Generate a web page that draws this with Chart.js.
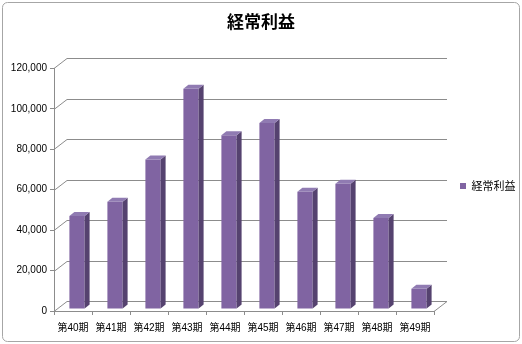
<!DOCTYPE html>
<html><head><meta charset="utf-8">
<script src="https://cdn.jsdelivr.net/npm/chart.js@4"></script>
<style>html,body{margin:0;padding:0;background:#fff}#wrap{width:522px;height:344px}</style>
</head><body><div id="wrap"><canvas id="c" width="522" height="344"></canvas></div>
<script>
const chartTitle = '経常利益';
const seriesName = '経常利益';
const categories = ['第40期','第41期','第42期','第43期','第44期','第45期','第46期','第47期','第48期','第49期'];
const values = [46000, 53000, 74000, 109000, 86000, 92000, 58000, 62000, 45000, 10000];
const yMin = 0, yMax = 120000, yStep = 20000;

const FRONT = '#8064A2', SIDE = '#55426F', TOP = '#907BB2';
const GRID = '#8c8c8c';
const DX = 13, DY = -10;      // wall depth
const BX = 4, BY = -2;        // bar front face offset
const BDX = 5, BDY = -4;      // bar depth

const threeD = {
  id: 'threeD',
  beforeDraw(chart) {
    const ctx = chart.ctx;
    ctx.save();
    ctx.fillStyle = '#fff';
    ctx.fillRect(0, 0, chart.width, chart.height);
    ctx.strokeStyle = '#a6a6a6';
    ctx.lineWidth = 1;
    ctx.beginPath();
    ctx.roundRect(2.5, 2.5, chart.width - 5, chart.height - 5, 5);
    ctx.stroke();
    ctx.restore();
  },
  beforeDatasetsDraw(chart) {
    const {ctx, chartArea: a, scales: {y}} = chart;
    ctx.save();
    ctx.strokeStyle = GRID;
    ctx.lineWidth = 1;
    y.ticks.forEach(t => {
      const py = Math.round(y.getPixelForValue(t.value)) + 0.5;
      ctx.beginPath();
      ctx.moveTo(a.left, py);
      ctx.lineTo(a.left + DX, py + DY);
      ctx.lineTo(a.right + DX, py + DY);
      ctx.stroke();
    });
    const by = Math.round(a.bottom) + 0.5;
    ctx.beginPath();
    ctx.moveTo(a.right, by);
    ctx.lineTo(a.right + DX, by + DY);
    ctx.stroke();
    ctx.restore();
    ctx.save();
    ctx.translate(BX, BY);
  },
  afterDatasetsDraw(chart) {
    const ctx = chart.ctx;
    chart.getDatasetMeta(0).data.forEach(bar => {
      const {x, y, base, width} = bar.getProps(['x', 'y', 'base', 'width'], true);
      const l = x - width / 2, r = x + width / 2;
      ctx.fillStyle = SIDE;
      ctx.beginPath();
      ctx.moveTo(r, y); ctx.lineTo(r + BDX, y + BDY); ctx.lineTo(r + BDX, base + BDY); ctx.lineTo(r, base);
      ctx.closePath(); ctx.fill();
      ctx.fillStyle = TOP;
      ctx.beginPath();
      ctx.moveTo(l, y); ctx.lineTo(l + BDX, y + BDY); ctx.lineTo(r + BDX, y + BDY); ctx.lineTo(r, y);
      ctx.closePath(); ctx.fill();
    });
    ctx.restore();
  }
};

Chart.defaults.font.family = "'Liberation Sans', 'Noto Sans CJK JP', sans-serif";
Chart.defaults.color = '#000';

new Chart(document.getElementById('c'), {
  type: 'bar',
  data: {
    labels: categories,
    datasets: [{
      label: seriesName,
      data: values,
      backgroundColor: FRONT,
      borderWidth: 0,
      barPercentage: 0.4,
      categoryPercentage: 1,
      clip: false
    }]
  },
  options: {
    responsive: false,
    animation: false,
    devicePixelRatio: 1,
    layout: {padding: 0},
    plugins: {
      title: {
        display: true,
        text: chartTitle,
        font: {size: 17, weight: 'bold', family: "'Noto Sans CJK JP', sans-serif"},
        color: '#000',
        padding: {top: 11, bottom: 37}
      },
      legend: {
        position: 'right',
        maxWidth: 88,
        title: {display: true, text: '', font: {size: 10}, padding: {top: 16, bottom: 0}},
        labels: {
          boxWidth: 6, boxHeight: 6, padding: 26,
          font: {size: 11, family: "'Noto Sans CJK JP', sans-serif"},
          color: '#000'
        }
      },
      tooltip: {enabled: false}
    },
    scales: {
      x: {
        grid: {display: true, offset: true, drawOnChartArea: false, drawTicks: true, tickLength: 4, color: GRID},
        border: {display: true, color: GRID},
        ticks: {font: {size: 10}, padding: 7, maxRotation: 0, autoSkip: false, color: '#000'},
        afterFit(s) { s.height = 33; }
      },
      y: {
        min: yMin, max: yMax,
        grid: {display: true, drawOnChartArea: false, drawTicks: true, tickLength: 4, color: GRID},
        border: {display: true, color: GRID},
        ticks: {stepSize: yStep, font: {size: 10}, padding: 3, color: '#000',
          callback: v => v.toLocaleString('en-US')},
        afterFit(s) { s.width = 54; }
      }
    }
  },
  plugins: [threeD]
});
</script>
</body></html>
